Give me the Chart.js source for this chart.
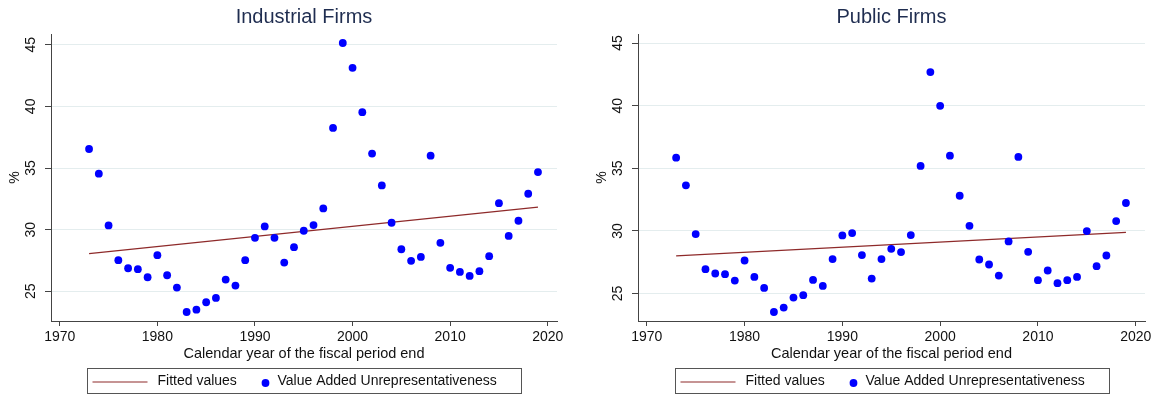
<!DOCTYPE html>
<html>
<head>
<meta charset="utf-8">
<script src="https://cdn.jsdelivr.net/npm/chart.js@4"></script>
<style>
  html, body { margin: 0; padding: 0; background: #fff; }
  #wrap { position: relative; width: 1158px; height: 395px; }
  canvas { position: absolute; top: 0; }
</style>
</head>
<body>
<div id="wrap">
  <canvas id="left" width="579" height="395" style="left:0"></canvas>
  <canvas id="right" width="579" height="395" style="left:579px"></canvas>
</div>
<script>
// Data
const years = [1973, 1974, 1975, 1976, 1977, 1978, 1979, 1980, 1981, 1982,
               1983, 1984, 1985, 1986, 1987, 1988, 1989, 1990, 1991, 1992,
               1993, 1994, 1995, 1996, 1997, 1998, 1999, 2000, 2001, 2002,
               2003, 2004, 2005, 2006, 2007, 2008, 2009, 2010, 2011, 2012,
               2013, 2014, 2015, 2016, 2017, 2018, 2019];
const industrialVA = [36.54, 34.54, 30.34, 27.52, 26.87, 26.79, 26.14, 27.93, 26.30, 25.30,
                      23.32, 23.51, 24.11, 24.46, 25.95, 25.46, 27.52, 29.34, 30.26, 29.34,
                      27.33, 28.58, 29.91, 30.37, 31.72, 38.25, 45.14, 43.13, 39.53, 36.17,
                      33.59, 30.56, 28.41, 27.47, 27.79, 36.00, 28.93, 26.90, 26.57, 26.25,
                      26.63, 27.85, 32.15, 29.49, 30.72, 32.91, 34.67];
const publicVA = [35.85, 33.64, 29.75, 26.95, 26.60, 26.55, 26.04, 27.64, 26.33, 25.45,
                  23.53, 23.88, 24.68, 24.87, 26.09, 25.61, 27.75, 29.64, 29.83, 28.07,
                  26.20, 27.75, 28.57, 28.31, 29.67, 35.19, 42.68, 39.99, 36.01, 32.81,
                  30.41, 27.72, 27.32, 26.44, 29.16, 35.91, 28.33, 26.07, 26.84, 25.83,
                  26.07, 26.33, 29.99, 27.19, 28.04, 30.79, 32.23];
const fitYears = [1973, 2019];
const industrialFit = [28.06, 31.83];
const publicFit = [28.01, 29.88];
const xTicks = [1970, 1980, 1990, 2000, 2010, 2020];
const yTicks = [25, 30, 35, 40, 45];
const seriesLabels = ['Fitted values', 'Value Added Unrepresentativeness'];

const FONT = "'Liberation Sans', Arial, sans-serif";
const INK = '#111';
const AXIS = '#444';

// title above the plot region + boxed legend below, both centred on the plot
const panelText = {
  id: 'panelText',
  afterDraw(chart, args, opts) {
    const ctx = chart.ctx, a = chart.chartArea;
    const cx = (a.left + a.right) / 2;
    ctx.save();
    ctx.font = '20px ' + FONT;
    ctx.fillStyle = '#1f2d50';
    ctx.textAlign = 'center';
    ctx.textBaseline = 'middle';
    ctx.fillText(opts.title, cx, 17);

    const bx = Math.round(cx - 217) + 0.5, by = 368.5;
    ctx.strokeStyle = '#555';
    ctx.lineWidth = 1;
    ctx.strokeRect(bx, by, 434, 25);

    const fit = chart.data.datasets[0], pts = chart.data.datasets[1];
    ctx.strokeStyle = fit.borderColor;
    ctx.lineWidth = fit.borderWidth;
    ctx.beginPath();
    ctx.moveTo(bx + 5, 382);
    ctx.lineTo(bx + 60, 382);
    ctx.stroke();

    ctx.fillStyle = pts.backgroundColor;
    ctx.beginPath();
    ctx.arc(bx + 178, 383, pts.pointRadius, 0, Math.PI * 2);
    ctx.fill();

    ctx.font = '14px ' + FONT;
    ctx.fillStyle = INK;
    ctx.textAlign = 'left';
    ctx.fillText(fit.label, bx + 70, 381);
    ctx.fillText(pts.label, bx + 190, 381);
    ctx.restore();
  }
};

function makePanel(id, title, values, fitValues, yMin, yMax, padLeft, padRight) {
  return new Chart(document.getElementById(id), {
    type: 'scatter',
    data: {
      datasets: [{
        type: 'line',
        label: seriesLabels[0],
        data: fitYears.map((x, i) => ({ x: x, y: fitValues[i] })),
        borderColor: '#8e2a2a',
        borderWidth: 1.2,
        pointRadius: 0,
        tension: 0,
        order: 2
      }, {
        type: 'scatter',
        label: seriesLabels[1],
        data: years.map((x, i) => ({ x: x, y: values[i] })),
        backgroundColor: '#0000ff',
        borderWidth: 0,
        pointRadius: 3.9,
        order: 1
      }]
    },
    options: {
      responsive: false,
      animation: false,
      layout: { padding: { top: 34, right: padRight, bottom: 30, left: padLeft } },
      plugins: {
        legend: { display: false },
        tooltip: { enabled: false },
        panelText: { title: title }
      },
      scales: {
        x: {
          type: 'linear',
          min: 1969.1,
          max: 2020.95,
          afterBuildTicks: s => { s.ticks = xTicks.map(v => ({ value: v })); },
          afterFit: s => { s.height = 44; },
          grid: { drawOnChartArea: false, drawTicks: true, tickLength: 5, tickColor: AXIS },
          border: { color: AXIS, width: 1 },
          ticks: {
            font: { size: 14, family: FONT }, color: INK, padding: 3,
            maxRotation: 0, autoSkip: false, callback: v => String(v)
          },
          title: {
            display: true, text: 'Calendar year of the fiscal period end',
            font: { size: 14.5, family: FONT }, color: INK, padding: { top: 0, bottom: 2 }
          }
        },
        y: {
          type: 'linear',
          min: yMin,
          max: yMax,
          afterBuildTicks: s => { s.ticks = yTicks.map(v => ({ value: v })); },
          afterFit: s => { s.width = 51; },
          grid: { color: '#e4edee', lineWidth: 1, tickLength: 6, tickColor: AXIS },
          border: { color: AXIS, width: 1 },
          ticks: {
            font: { size: 14, family: FONT }, color: INK, padding: 6,
            minRotation: 90, maxRotation: 90, crossAlign: 'center',
            autoSkip: false, callback: v => String(v)
          },
          title: {
            display: true, text: '%',
            font: { size: 14, family: FONT }, color: INK, padding: { top: 7, bottom: 0 }
          }
        }
      }
    },
    plugins: [panelText]
  });
}

makePanel('left', 'Industrial Firms', industrialVA, industrialFit, 22.59, 45.87, 0, 22);
makePanel('right', 'Public Firms', publicVA, publicFit, 22.81, 45.72, 8, 13);
</script>
</body>
</html>
